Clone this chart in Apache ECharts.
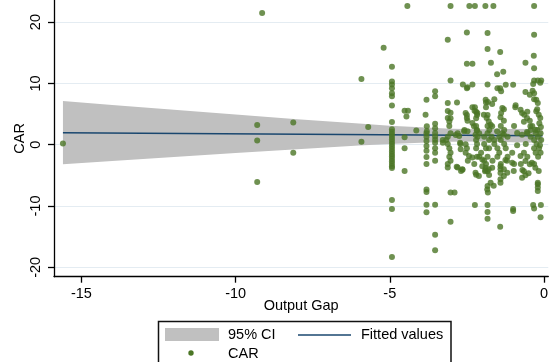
<!DOCTYPE html>
<html>
<head>
<meta charset="utf-8">
<script src="https://cdn.jsdelivr.net/npm/echarts@6/dist/echarts.min.js"></script>
<style>html,body{margin:0;padding:0;background:#fff}#c{width:551px;height:362px}</style>
</head>
<body>
<div id="c"></div>
<script>
// ---- data ----
var xTicks = [-15, -10, -5, 0];
var yTicks = [-20, -10, 0, 10, 20];
var xTitle = 'Output Gap';
var yTitle = 'CAR';
var legendNames = ['95% CI', 'Fitted values', 'CAR'];

var bandX     = [-15.6, -14, -12, -10, -8, -6, -5, -4, -3, -2, -1, -0.05];
var bandUpper = [7.11, 6.48, 5.69, 4.92, 4.15, 3.44, 3.11, 2.83, 2.62, 2.51, 2.55, 2.60];
var bandLower = [-3.19, -2.66, -2.01, -1.36, -0.73, -0.14, 0.11, 0.33, 0.48, 0.51, 0.41, 0.30];

var fitX = [-15.6, -0.05];
var fitY = [1.96, 1.45];

var carPoints = [
 [-15.6,0.2],[-9.14,21.5],[-9.3,3.2],[-9.3,0.7],[-9.3,-6.1],[-8.13,3.6],[-8.13,-1.3],[-5.92,10.7],[-5.92,0.5],[-5.7,2.9],[-5.2,15.8],
 [-4.93,12.7],[-4.93,10.3],[-4.93,9.8],[-4.93,9.2],[-4.93,8.4],[-4.93,7.9],[-4.93,6.4],[-4.93,3.7],[-4.93,2.5],[-4.93,2.1],[-4.93,1.7],[-4.93,1.3],[-4.93,0.9],[-4.93,0.5],[-4.93,0.1],[-4.93,-0.3],[-4.93,-0.7],[-4.93,-1.1],[-4.93,-1.5],[-4.93,-1.9],[-4.93,-2.3],[-4.93,-2.7],[-4.93,-3.1],[-4.93,-3.5],[-4.93,-3.8],[-4.93,-9.0],[-4.93,-10.5],[-4.93,-18.3],
 [-4.52,5.55],[-4.41,5.55],[-4.46,4.6],[-4.52,1.2],[-4.52,-0.6],[-4.52,-4.3],[-4.43,22.63],[-4.14,2.3],
 [-3.81,7.35],[-3.84,4.9],[-3.8,3.0],[-3.8,2.2],[-3.81,1.85],[-3.81,1.3],[-3.81,0.6],[-3.81,-0.2],[-3.81,-1.0],[-3.81,-2.0],[-3.81,-3.15],[-3.81,-7.3],[-3.81,-7.7],[-3.81,-9.8],[-3.81,-11.0],
 [-3.53,8.7],[-3.53,7.9],[-3.53,3.4],[-3.53,2.7],[-3.53,1.9],[-3.53,1.35],[-3.53,0.8],[-3.53,0.3],[-3.53,-0.6],[-3.53,-1.3],[-3.53,-2.6],[-3.53,-9.8],[-3.53,-14.7],[-3.53,-17.2],
 [-3.28,0.77],[-3.28,0.33],[-3.17,0.77],
 [-3.03,22.63],[-3.12,17.1],[-3.03,10.45],[-3.12,6.8],[-3.12,5.5],[-3.03,5.2],[-3.12,4.35],[-3.03,4.3],[-3.07,3.8],[-3.07,3.05],[-3.03,1.85],[-3.12,1.3],[-3.12,0.1],[-3.07,-0.6],[-3.03,-1.3],[-3.07,-1.95],[-3.03,-2.6],[-3.12,-3.15],[-3.12,-3.7],[-3.03,-7.8],[-2.9,-7.8],[-3.03,-12.56],
 [-2.82,6.9],[-2.8,1.85],[-2.86,1.6],[-2.75,1.4],[-2.71,0.1],[-2.72,0.33],[-2.70,-0.75],[-2.8,-3.7],[-2.83,-3.6],[-2.65,-4.0],[-2.69,-4.3],[-2.63,9.8],[-2.59,2.2],[-2.58,2.4],[-2.64,-4.1],
 [-2.42,22.63],[-2.24,22.63],[-1.9,22.63],[-1.64,22.63],[-0.32,22.63],
 [-2.5,18.3],[-2.5,13.2],[-2.32,13.2],[-2.48,9.35],[-2.5,9.2],[-2.54,5.17],[-2.5,4.35],[-2.48,3.9],[-2.5,4.84],[-2.48,2.2],[-2.54,0.06],[-2.54,-1.3],[-2.5,-0.59],[-2.47,-2.6],[-2.43,-1.85],[-2.32,-2.1],
 [-2.32,9.8],[-2.24,6.1],[-2.32,6.1],[-2.25,5.55],[-2.16,5.17],[-2.2,5.39],[-2.17,4.84],[-2.2,4.3],[-2.32,3.54],[-2.27,3.0],[-2.2,3.05],[-2.18,2.3],[-2.22,1.63],[-2.17,2.4],[-2.1,1.85],[-2.15,1.3],[-2.26,-3.15],[-2.2,-4.9],[-2.22,-4.57],[-2.11,-5.1],[-2.24,-9.84],[-2.2,0.77],[-2.17,0.1],[-2.2,-0.59],[-2.04,-1.3],[-2.17,-1.95],[-2.1,-1.95],
 [-1.83,18.2],[-1.83,15.6],[-1.83,9.8],[-1.89,7.35],[-1.82,6.97],[-1.88,6.09],[-1.88,6.9],[-1.83,4.84],[-1.95,4.9],[-1.86,4.35],[-1.79,3.8],[-1.83,3.05],[-1.77,2.4],[-1.83,1.85],[-1.94,1.31],[-1.78,0.77],[-1.94,0.1],[-1.88,-0.59],[-1.83,-1.95],[-1.94,-2.61],[-2.0,-2.4],[-1.88,-3.15],[-2.0,-3.5],[-1.89,-3.75],[-1.79,-4.0],[-1.83,-4.34],[-1.78,-4.94],[-1.91,-4.34],[-1.83,-6.74],[-1.84,-7.3],[-1.82,-7.8],[-1.83,-9.84],[-1.83,-10.98],[-1.83,-12.07],[-1.9,-4.13],
 [-1.72,13.38],[-1.68,6.64],[-1.73,3.26],[-1.68,3.0],[-1.7,1.31],[-1.67,-2.61],[-1.61,7.4],[-1.61,0.77],[-1.61,0.1],[-1.68,-3.75],[-1.63,-6.7],[-1.73,-6.19],[-1.78,-0.59],
 [-1.52,11.5],[-1.32,11.9],[-1.42,15.12],[-1.51,9.2],[-1.42,9.2],[-1.39,8.7],[-1.35,6.0],[-1.39,5.17],[-1.41,4.47],[-1.3,3.9],[-1.4,3.05],[-1.52,2.18],[-1.3,1.63],[-1.35,1.85],[-1.45,1.31],[-1.4,0.77],[-1.51,-0.59],[-1.45,-1.3],[-1.51,-1.95],[-1.4,-3.15],[-1.41,-3.5],[-1.41,-4.0],[-1.41,-4.6],[-1.41,-5.65],[-1.41,-6.2],[-1.3,-4.0],[-1.3,-5.11],[-1.42,-13.38],
 [-1.24,9.79],[-1.0,9.79],[-1.3,5.77],[-1.29,2.4],[-1.18,1.31],[-1.18,-1.95],[-1.24,-0.59],[-1.25,-2.5],[-1.2,-2.61],[-1.19,-4.57],[-1.29,0.11],[-1.03,-1.3],[-1.03,-2.94],[-0.98,-4.3],[-0.97,-3.15],[-0.97,3.05],[-1.0,-10.5],[-1.0,-10.8],[-0.93,6.1],[-0.92,6.42],[-0.87,1.9],[-0.87,-0.1],
 [-0.76,5.7],[-0.71,5.17],[-0.71,1.63],[-0.75,-3.15],[-0.76,-1.85],[-0.7,-4.13],[-0.64,4.9],[-0.65,3.75],[-0.65,-1.3],[-0.65,-4.34],[-0.6,13.38],[-0.6,8.6],[-0.6,-2.66],[-0.6,-5.0],[-0.59,0.11],[-0.54,1.85],[-0.55,4.35],[-0.55,2.07],[-0.54,-1.95],[-0.54,5.39],[-0.71,-5.4],[-0.5,-4.67],
 [-0.46,8.15],[-0.46,3.9],[-0.46,-3.2],[-0.44,3.0],[-0.43,2.4],[-0.43,1.31],[-0.37,8.81],[-0.38,3.05],[-0.39,-2.94],[-0.32,17.95],[-0.33,14.5],[-0.32,12.45],[-0.32,10.45],[-0.35,9.9],[-0.32,8.38],[-0.32,7.4],[-0.32,0.77],[-0.32,-0.59],[-0.32,-3.15],[-0.35,-9.84],[-0.32,-10.39],[-0.28,2.45],[-0.28,-3.75],[-0.27,1.85],[-0.27,-1.3],[-0.25,7.35],[-0.25,5.45],[-0.24,0.11],
 [-0.2,10.45],[-0.12,10.1],[-0.09,10.45],[-0.2,6.8],[-0.22,2.4],[-0.2,1.31],[-0.2,-6.46],[-0.2,-7.0],[-0.2,-7.55],[-0.2,-6.19],[-0.17,4.9],[-0.17,-4.3],[-0.16,-0.59],[-0.12,4.35],[-0.11,1.85],[-0.11,-1.3],[-0.09,0.77],[-0.1,-9.84],[-0.11,-11.85],[-0.22,5.77],[-0.19,-1.95],[-0.13,-0.1],[-0.1,2.9],[-0.15,3.5]
];

// ---- style ----
var FONT = '"Liberation Sans", Arial, sans-serif';
var GREEN = '#4b7625';
var NAVY = '#1a476f';
var GRAY = '#c0c0c0';
var GRID = '#e4ecf2';

var chart = echarts.init(document.getElementById('c'), null, {renderer: 'canvas'});

var bandData = bandX.map(function (x, i) { return [x, bandUpper[i], bandLower[i]]; });

chart.setOption({
  animation: false,
  backgroundColor: '#fff',
  grid: {left: 54, right: 0, top: 0, bottom: 85.3, containLabel: false},
  xAxis: {
    type: 'value', min: -15.89, max: 0.14,
    axisLine: {show: true, onZero: false, lineStyle: {color: '#000', width: 1.3}},
    axisTick: {show: true, length: 6, customValues: xTicks, lineStyle: {color: '#000', width: 1.3}},
    axisLabel: {customValues: xTicks, fontFamily: FONT, fontSize: 14.5, color: '#000', margin: 10},
    splitLine: {show: false},
    name: xTitle, nameLocation: 'middle', nameGap: 22, nameMoveOverlap: false,
    nameTextStyle: {fontFamily: FONT, fontSize: 14.5, color: '#000'}
  },
  yAxis: {
    type: 'value', min: -21.53, max: 23.6,
    axisLine: {show: true, onZero: false, lineStyle: {color: '#000', width: 1.3}},
    axisTick: {show: true, length: 6, customValues: yTicks, lineStyle: {color: '#000', width: 1.3}},
    axisLabel: {customValues: yTicks, rotate: 90, fontFamily: FONT, fontSize: 14.5, color: '#000', margin: 11},
    splitLine: {show: false},
    name: yTitle, nameLocation: 'middle', nameGap: 27, nameMoveOverlap: false,
    nameTextStyle: {fontFamily: FONT, fontSize: 14.5, color: '#000'}
  },
  series: [
    {
      type: 'line', data: [], silent: true, z: 0,
      markLine: {
        silent: true, symbol: 'none', label: {show: false}, z: 0,
        lineStyle: {color: GRID, width: 1, type: 'solid'},
        data: yTicks.map(function (v) { return {yAxis: v}; })
      }
    },
    {
      name: legendNames[0], type: 'custom', z: 10, silent: true,
      data: bandData,
      renderItem: function (params, api) {
        if (params.dataIndex !== 0) return null;
        var pts = [];
        for (var i = 0; i < bandData.length; i++) pts.push(api.coord([bandData[i][0], bandData[i][1]]));
        for (var j = bandData.length - 1; j >= 0; j--) pts.push(api.coord([bandData[j][0], bandData[j][2]]));
        return {type: 'polygon', shape: {points: pts}, style: {fill: GRAY}};
      }
    },
    {
      name: legendNames[1], type: 'line', z: 11, silent: true,
      data: fitX.map(function (x, i) { return [x, fitY[i]]; }),
      showSymbol: false, lineStyle: {color: NAVY, width: 1.5}
    },
    {
      name: legendNames[2], type: 'scatter', z: 12, silent: true,
      data: carPoints, symbol: 'circle', symbolSize: 6,
      itemStyle: {color: GREEN}
    }
  ],
  graphic: [
    {type: 'rect', shape: {x: 158.5, y: 321.5, width: 292.5, height: 60},
     style: {fill: '#fff', stroke: '#111', lineWidth: 1.5}},
    {type: 'rect', shape: {x: 165, y: 328, width: 54, height: 13}, style: {fill: GRAY}},
    {type: 'text', x: 228, y: 334.5, style: {text: legendNames[0], font: '14.5px ' + FONT, fill: '#000', verticalAlign: 'middle'}},
    {type: 'line', shape: {x1: 298, y1: 335, x2: 351, y2: 335}, style: {stroke: NAVY, lineWidth: 1.5}},
    {type: 'text', x: 361, y: 334.5, style: {text: legendNames[1], font: '14.5px ' + FONT, fill: '#000', verticalAlign: 'middle'}},
    {type: 'circle', shape: {cx: 191, cy: 353, r: 2.7}, style: {fill: GREEN}},
    {type: 'text', x: 228, y: 353.5, style: {text: legendNames[2], font: '14.5px ' + FONT, fill: '#000', verticalAlign: 'middle'}}
  ]
});
</script>
</body>
</html>
